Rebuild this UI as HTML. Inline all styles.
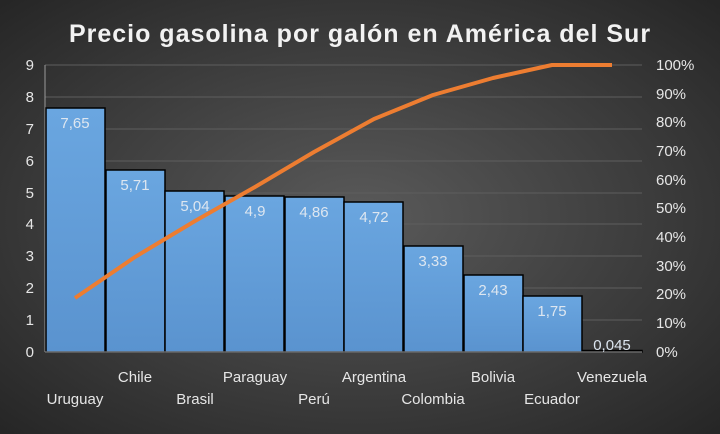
<!DOCTYPE html>
<html><head><style>body{margin:0}svg{display:block}</style></head><body>
<svg width="720" height="434" xmlns="http://www.w3.org/2000/svg" font-family="Liberation Sans, DejaVu Sans, sans-serif">
<defs>
<radialGradient id="bg" cx="50%" cy="50%" r="70%">
<stop offset="0" stop-color="#5a5a5a"/><stop offset="1" stop-color="#262626"/>
</radialGradient>
<linearGradient id="bar" x1="0" y1="0" x2="0" y2="1">
<stop offset="0" stop-color="#6aa6e0"/><stop offset="1" stop-color="#5a93cf"/>
</linearGradient>
</defs>
<rect width="720" height="434" fill="url(#bg)"/>
<text x="360" y="42" text-anchor="middle" font-size="25" font-weight="bold" fill="#f2f2f2" letter-spacing="1">Precio gasolina por galón en América del Sur</text>
<g stroke="#5e5e5e" stroke-width="1">
<line x1="45" x2="642" y1="65" y2="65"/><line x1="45" x2="642" y1="97" y2="97"/>
<line x1="45" x2="642" y1="129" y2="129"/><line x1="45" x2="642" y1="161" y2="161"/>
<line x1="45" x2="642" y1="193" y2="193"/><line x1="45" x2="642" y1="224" y2="224"/>
<line x1="45" x2="642" y1="256" y2="256"/><line x1="45" x2="642" y1="288" y2="288"/>
<line x1="45" x2="642" y1="320" y2="320"/>
</g>
<line x1="45" x2="45" y1="65" y2="352" stroke="#9a9a9a"/>
<g fill="url(#bar)" stroke="#000" stroke-width="1.5">
<rect x="46" y="108" width="59" height="244"/>
<rect x="106" y="170" width="59" height="182"/>
<rect x="165" y="191" width="59" height="161"/>
<rect x="225" y="196" width="59" height="156"/>
<rect x="285" y="197" width="59" height="155"/>
<rect x="344" y="202" width="59" height="150"/>
<rect x="404" y="246" width="59" height="106"/>
<rect x="464" y="275" width="59" height="77"/>
<rect x="523" y="296" width="59" height="56"/>
<rect x="583" y="350.5" width="59" height="1.5"/>
</g>
<line x1="45" x2="642" y1="352" y2="352" stroke="#9a9a9a"/>
<g fill="#dde6f0" font-size="15" text-anchor="middle">
<text x="75" y="128">7,65</text><text x="135" y="190">5,71</text>
<text x="195" y="211">5,04</text><text x="255" y="216">4,9</text>
<text x="314" y="217">4,86</text><text x="374" y="222">4,72</text>
<text x="433" y="266">3,33</text><text x="493" y="295">2,43</text>
<text x="552" y="316">1,75</text><text x="612" y="350">0,045</text>
</g>
<polyline fill="none" stroke="#ed7d31" stroke-width="4" stroke-linejoin="round" points="75,298 135,257 195,221 255,187 314,152 374,119 433,95 493,78 552,65 612,65"/>
<g fill="#e6e6e6" font-size="15" text-anchor="end">
<text x="34" y="70">9</text><text x="34" y="102">8</text><text x="34" y="134">7</text>
<text x="34" y="166">6</text><text x="34" y="198">5</text><text x="34" y="229">4</text>
<text x="34" y="261">3</text><text x="34" y="293">2</text><text x="34" y="325">1</text><text x="34" y="357">0</text>
</g>
<g fill="#e6e6e6" font-size="15" text-anchor="start">
<text x="656" y="70">100%</text><text x="656" y="99">90%</text><text x="656" y="127">80%</text>
<text x="656" y="156">70%</text><text x="656" y="185">60%</text><text x="656" y="213">50%</text>
<text x="656" y="242">40%</text><text x="656" y="271">30%</text><text x="656" y="299">20%</text>
<text x="656" y="328">10%</text><text x="656" y="357">0%</text>
</g>
<g fill="#e6e6e6" font-size="15" text-anchor="middle">
<text x="75" y="404">Uruguay</text><text x="135" y="382">Chile</text>
<text x="195" y="404">Brasil</text><text x="255" y="382">Paraguay</text>
<text x="314" y="404">Perú</text><text x="374" y="382">Argentina</text>
<text x="433" y="404">Colombia</text><text x="493" y="382">Bolivia</text>
<text x="552" y="404">Ecuador</text><text x="612" y="382">Venezuela</text>
</g>
</svg>
</body></html>
